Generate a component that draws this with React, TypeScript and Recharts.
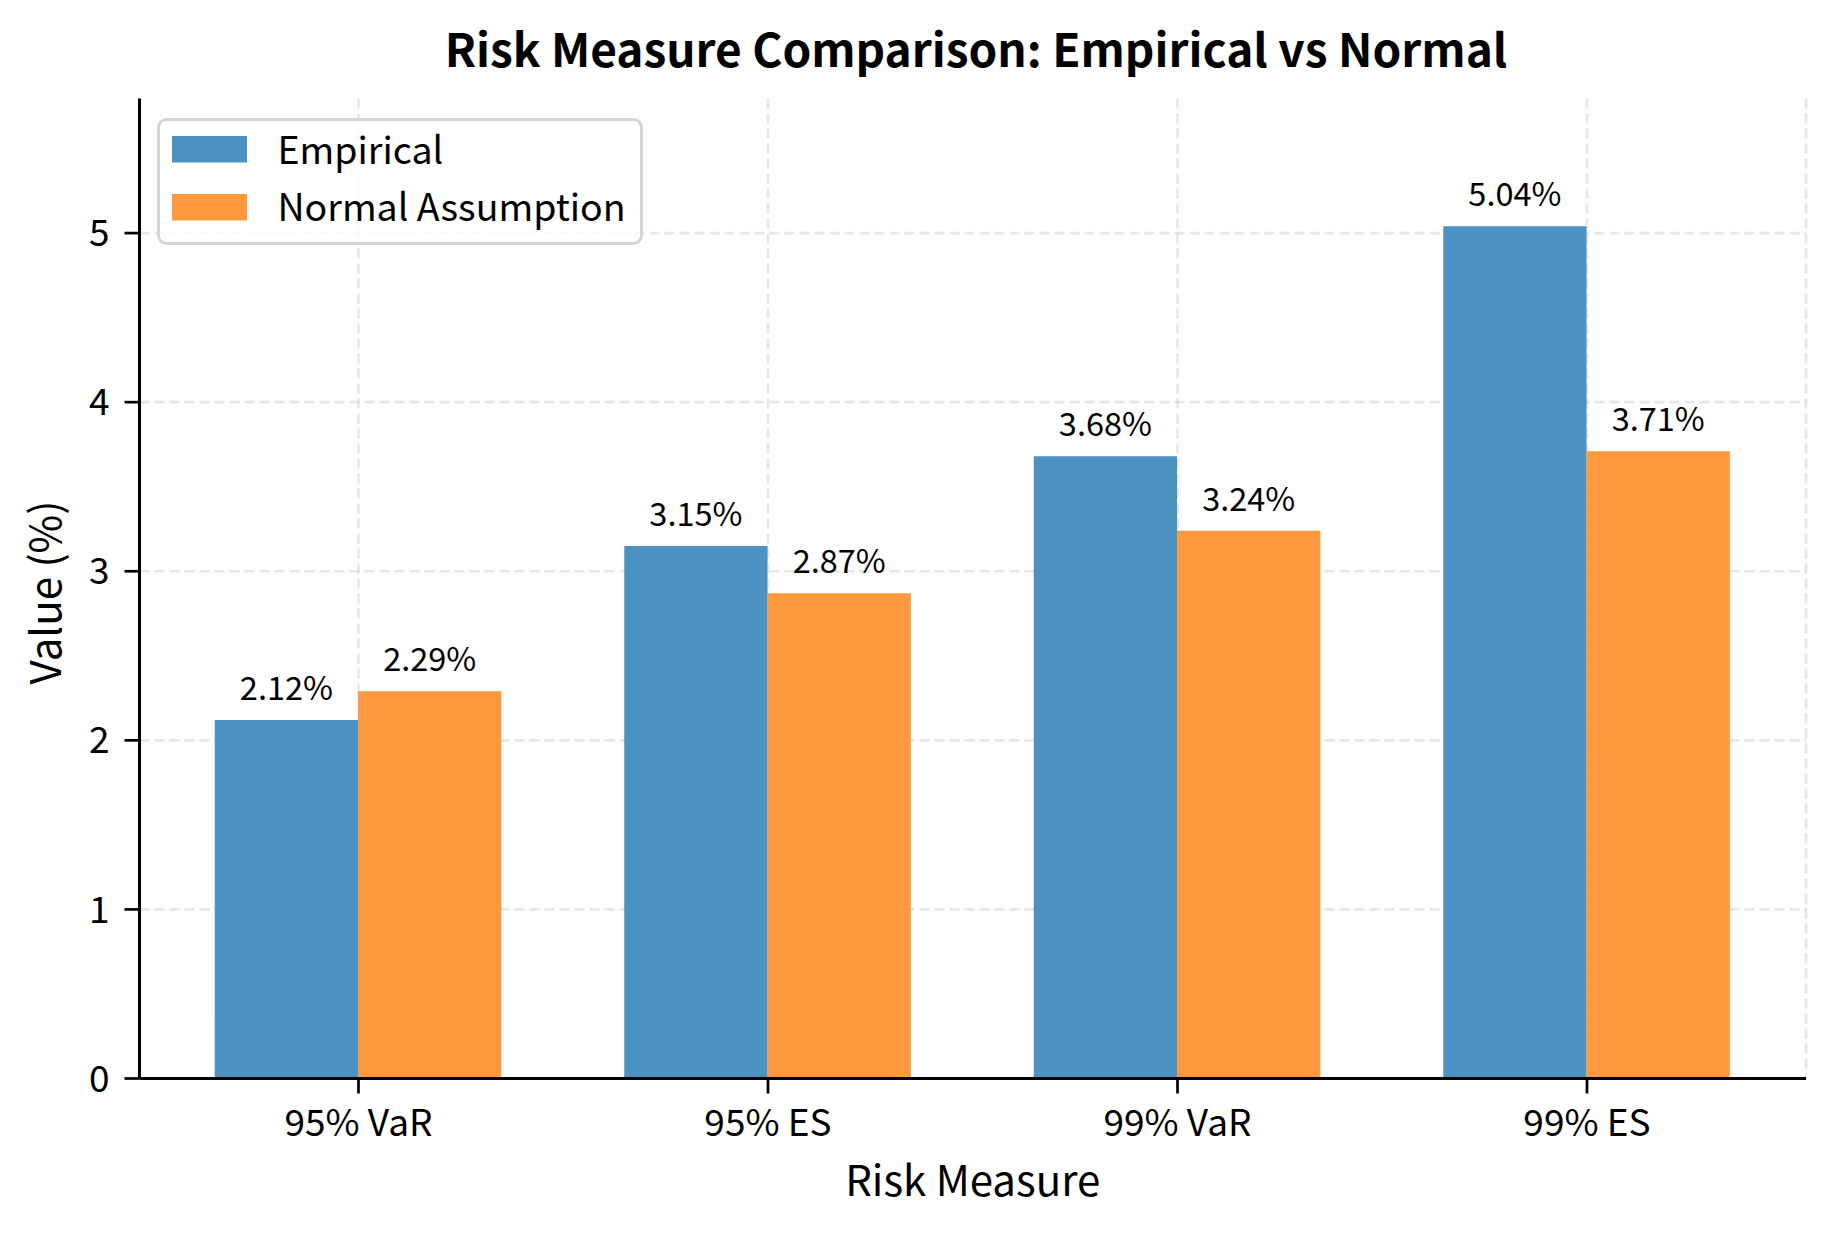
import React from 'react';
import { BarChart, Bar, XAxis, YAxis, CartesianGrid, Legend, LabelList } from 'recharts';

const categories = ['95% VaR', '95% ES', '99% VaR', '99% ES'];
const empiricalValues = [2.12, 3.15, 3.68, 5.04];
const normalValues = [2.29, 2.87, 3.24, 3.71];
const yTicks = [0, 1, 2, 3, 4, 5];

const seriesNames = { empirical: 'Empirical', normal: 'Normal Assumption' };
const colors = { empirical: '#4c92c3', normal: '#ff993e' };

const data = categories.map((c, i) => ({
  name: c,
  empirical: empiricalValues[i],
  normal: normalValues[i],
}));

const yMax = Math.max(...empiricalValues, ...normalValues) * 1.15;

const FONT = '"Noto Sans CJK JP", "Source Sans Pro", "Noto Sans", sans-serif';
const W = 1834;
const H = 1234;

const fmt = (v: any) => `${Number(v).toFixed(2)}%`;

const renderLegend = (props: any) => {
  const payload = props.payload || [];
  return (
    <svg width={486} height={127} style={{ display: 'block', overflow: 'visible' }}>
      <rect x={1.5} y={1.5} width={483} height={124} rx={8} ry={8} fill="#ffffff" fillOpacity={0.8} stroke="#d5d5d5" strokeWidth={3} />
      {payload.map((entry: any, i: number) => (
        <g key={entry.value}>
          <rect x={15} y={18 + i * 58} width={75} height={26.5} fill={entry.color} />
          <text x={120.5} y={45.6 + i * 57} fontSize={37.5} fontFamily={FONT} fill="#000">
            {entry.value}
          </text>
        </g>
      ))}
    </svg>
  );
};

const renderYLabel = (props: any) => {
  const vb = props.viewBox || { x: 0, y: 0, width: 0, height: 0 };
  const x = vb.x + 61;
  const y = vb.y + vb.height / 2 + 4;
  return (
    <text x={x} y={y} transform={`rotate(-90 ${x} ${y})`} textAnchor="middle" fontSize={42} fontFamily={FONT} fill="#000">
      Value (%)
    </text>
  );
};

const renderXLabel = (props: any) => {
  const vb = props.viewBox || { x: 0, y: 0, width: 0, height: 0 };
  const x = vb.x + vb.width / 2;
  return (
    <text x={x} y={1196} textAnchor="middle" fontSize={42} fontFamily={FONT} fill="#000">
      Risk Measure
    </text>
  );
};

export default function App() {
  return (
    <div style={{ position: 'absolute', left: 0, top: 0, width: W, height: H, background: '#fff', fontFamily: FONT }}>
      <BarChart
        width={W}
        height={H}
        data={data}
        margin={{ top: 98.5, right: 28, left: 0, bottom: 0 }}
        barGap={0}
        barSize={143.3}
      >
        <text x={976} y={66.7} textAnchor="middle" fontSize={46} fontWeight="bold" fontFamily={FONT} fill="#000">
          Risk Measure Comparison: Empirical vs Normal
        </text>
        <XAxis
          dataKey="name"
          height={155.5}
          padding={{ left: 14.25, right: 14.25 }}
          axisLine={{ stroke: '#000', strokeWidth: 3 }}
          tickLine={{ stroke: '#000', strokeWidth: 2.7 }}
          tickSize={15}
          tickMargin={16}
          tick={{ fill: '#000', fontSize: 37, fontFamily: FONT }}
          interval={0}
          label={{ position: 'insideBottom', content: renderXLabel }}
        />
        <YAxis
          width={139.5}
          type="number"
          scale="linear"
          domain={[0, yMax]}
          allowDataOverflow
          ticks={yTicks}
          axisLine={{ stroke: '#000', strokeWidth: 3 }}
          tickLine={{ stroke: '#000', strokeWidth: 2.7 }}
          tickSize={15}
          tickMargin={15}
          tick={{ fill: '#000', fontSize: 37, fontFamily: FONT }}
          label={{ position: 'insideLeft', content: renderYLabel }}
        />
        <Legend
          layout="vertical"
          align="center"
          verticalAlign="middle"
          wrapperStyle={{ position: 'absolute', left: 157, top: 118, width: 486, height: 127 }}
          content={renderLegend}
        />
        <Bar dataKey="empirical" name={seriesNames.empirical} fill={colors.empirical} isAnimationActive={false}>
          <LabelList dataKey="empirical" position="top" offset={20} formatter={fmt} fontSize={32.5} fill="#000" fontFamily={FONT} />
        </Bar>
        <Bar dataKey="normal" name={seriesNames.normal} fill={colors.normal} isAnimationActive={false}>
          <LabelList dataKey="normal" position="top" offset={20} formatter={fmt} fontSize={32.5} fill="#000" fontFamily={FONT} />
        </Bar>
        <CartesianGrid stroke="#b0b0b0" strokeOpacity={0.3} strokeWidth={2.7} strokeDasharray="10 5" horizontalValues={yTicks} />
      </BarChart>
    </div>
  );
}
